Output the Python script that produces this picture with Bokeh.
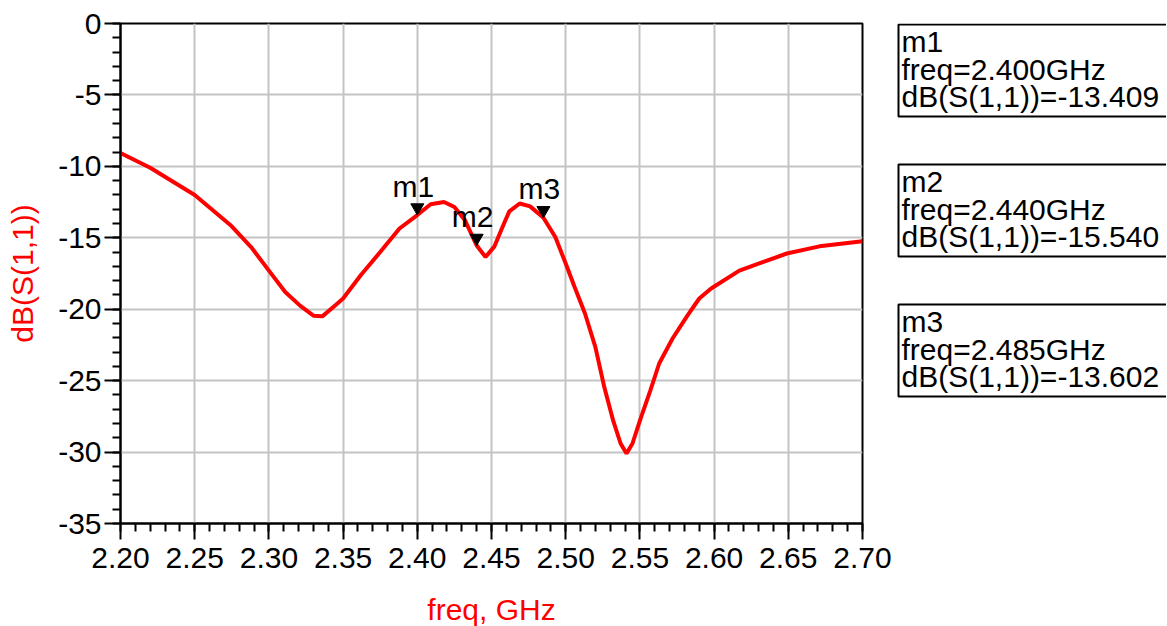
from bokeh.plotting import figure
from bokeh.layouts import row
from bokeh.models import SingleIntervalTicker, PrintfTickFormatter, ColumnDataSource
from bokeh.core.properties import value
from bokeh.embed import file_html
from bokeh.resources import INLINE

# ---- data ----
freq = [2.200, 2.220, 2.250, 2.274, 2.288, 2.300, 2.311, 2.321, 2.330, 2.336,
        2.345, 2.350, 2.362, 2.375, 2.388, 2.400, 2.409, 2.418, 2.425, 2.432,
        2.440, 2.446, 2.452, 2.458, 2.462, 2.469, 2.476, 2.485, 2.493, 2.500,
        2.506, 2.513, 2.520, 2.526, 2.532, 2.537, 2.541, 2.545, 2.550, 2.557,
        2.563, 2.572, 2.582, 2.590, 2.598, 2.617, 2.649, 2.671, 2.700]
s11_db = [-9.06, -10.10, -12.00, -14.10, -15.65, -17.30, -18.80, -19.75, -20.45, -20.50,
          -19.70, -19.25, -17.60, -16.00, -14.35, -13.41, -12.65, -12.50, -12.85, -13.75,
          -15.54, -16.35, -15.60, -14.10, -13.15, -12.60, -12.80, -13.60, -14.95, -16.80,
          -18.45, -20.30, -22.65, -25.45, -27.80, -29.40, -30.10, -29.40, -27.80, -25.70,
          -23.80, -22.05, -20.45, -19.25, -18.55, -17.30, -16.10, -15.60, -15.25]

marker_names = ["m1", "m2", "m3"]
marker_freqs = [2.400, 2.440, 2.485]
marker_vals = [-13.409, -15.540, -13.602]

x_ticks_interval = 0.05
y_ticks_interval = 5
x_limits = (2.20, 2.70)
y_limits = (-35, 0)

FONT = "Liberation Sans"
FS = "30px"
FRAME_W, FRAME_H = 742, 500
BORDER_L, BORDER_T, BORDER_R, BORDER_B = 120, 23, 30, 100
MARK_SIZE = 13

p = figure(frame_width=FRAME_W, frame_height=FRAME_H,
           x_range=x_limits, y_range=y_limits,
           min_border_left=BORDER_L, min_border_top=BORDER_T,
           min_border_right=BORDER_R, min_border_bottom=BORDER_B,
           toolbar_location=None, output_backend="svg")
p.background_fill_color = "white"
p.border_fill_color = "white"
p.outline_line_color = "black"
p.outline_line_width = 2

p.xaxis.ticker = SingleIntervalTicker(interval=x_ticks_interval, num_minor_ticks=5)
p.yaxis.ticker = SingleIntervalTicker(interval=y_ticks_interval, num_minor_ticks=5)
p.xaxis.formatter = PrintfTickFormatter(format="%.2f")
p.yaxis.formatter = PrintfTickFormatter(format="%d")

for ax in (p.xaxis, p.yaxis):
    ax.axis_line_width = 2
    ax.axis_line_color = "black"
    ax.major_tick_line_width = 2
    ax.minor_tick_line_width = 2
    ax.major_tick_line_color = "black"
    ax.minor_tick_line_color = "black"
    ax.major_tick_out = 16
    ax.major_tick_in = 0
    ax.minor_tick_out = 8
    ax.minor_tick_in = 0
    ax.major_label_text_font = FONT
    ax.major_label_text_font_size = FS
    ax.major_label_text_color = "black"
    ax.axis_label_text_font = FONT
    ax.axis_label_text_font_size = FS
    ax.axis_label_text_font_style = "normal"
    ax.axis_label_text_color = "red"

p.xaxis.axis_label = "freq, GHz"
p.yaxis.axis_label = "dB(S(1,1))"
p.xaxis.major_label_standoff = 8
p.yaxis.major_label_standoff = 3
p.xaxis.axis_label_standoff = 22
p.yaxis.axis_label_standoff = 16

p.xgrid.grid_line_color = "#c4c4c4"
p.ygrid.grid_line_color = "#c4c4c4"
p.xgrid.grid_line_width = 2
p.ygrid.grid_line_width = 2

p.line(freq, s11_db, line_color="red", line_width=4)

# markers: triangle tip sits on the curve point
px_per_db = FRAME_H / (y_limits[1] - y_limits[0])
tip = 0.577 * MARK_SIZE / px_per_db
msrc = ColumnDataSource(dict(x=marker_freqs, y=marker_vals,
                             ty=[v + tip for v in marker_vals], name=marker_names))
p.scatter("x", "ty", source=msrc, marker="inverted_triangle", size=MARK_SIZE,
          fill_color="black", line_color="black")
p.text("x", "y", text="name", source=msrc, text_align="center", text_baseline="alphabetic",
       x_offset=-4, y_offset=-29, text_font=value(FONT), text_font_size=FS, text_color="black")

# ---- marker readout panel (frame aligned with the main plot frame, page-pixel ranges) ----
P2_X0 = BORDER_L + FRAME_W + BORDER_R
P2_W = 274
p2 = figure(frame_width=P2_W, frame_height=FRAME_H,
            x_range=(P2_X0, P2_X0 + P2_W), y_range=(BORDER_T + FRAME_H, BORDER_T),
            min_border_left=0, min_border_right=0,
            min_border_top=BORDER_T, min_border_bottom=BORDER_B,
            toolbar_location=None, output_backend="svg")
p2.xaxis.visible = False
p2.yaxis.visible = False
p2.grid.visible = False
p2.outline_line_color = None
p2.background_fill_color = "white"
p2.border_fill_color = "white"

box_left, box_top, box_h, box_gap = 898, 24, 92, 140
line_h = 27.5
lefts, rights, tops, bottoms = [], [], [], []
tx, ty, tt = [], [], []
for i, (n, f, v) in enumerate(zip(marker_names, marker_freqs, marker_vals)):
    top = box_top + i * box_gap
    lefts.append(box_left); rights.append(P2_X0 + P2_W + 50)
    tops.append(top); bottoms.append(top + box_h)
    lines = [n, "freq=%.3fGHz" % f, "dB(S(1,1))=%.3f" % v]
    for j, s in enumerate(lines):
        tx.append(box_left + 3)
        ty.append(top + 17 + j * line_h)
        tt.append(s)

p2.quad(left=lefts, right=rights, top=tops, bottom=bottoms,
        fill_color=None, line_color="black", line_width=2)
p2.text(tx, ty, text=tt, text_align="left", text_baseline="alphabetic",
        text_font=value(FONT), text_font_size=FS, text_color="black")

layout = row(p, p2, spacing=0)
open("out.html", "w").write(file_html(layout, INLINE))
